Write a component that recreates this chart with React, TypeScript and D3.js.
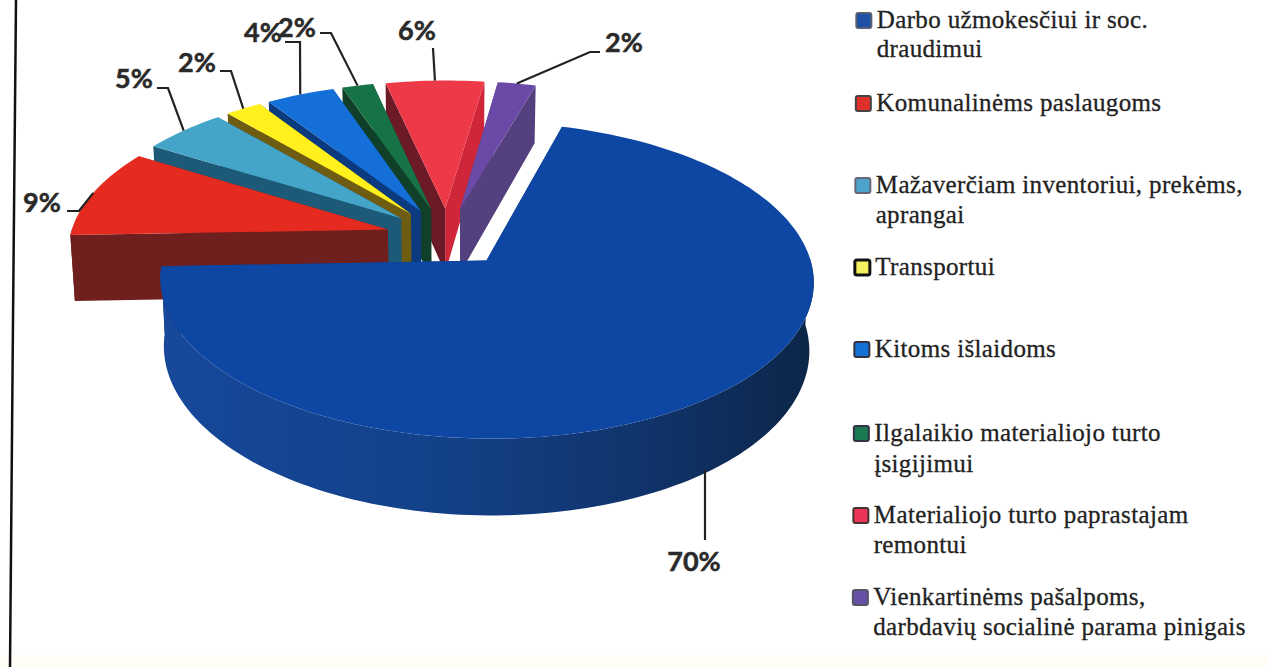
import React from "react";
import * as d3 from "d3";

// values, in the chart's own order (clockwise from the big slice)
const shares = [70, 9.4, 4.9, 2.1, 3.95, 1.8, 5.7, 2.2];
const percentLabels = ["70%", "9%", "5%", "2%", "4%", "2%", "6%", "2%"];
const legendLines = [
  ["Darbo užmokesčiui ir soc.", "draudimui"],
  ["Komunalinėms paslaugoms"],
  ["Mažaverčiam inventoriui, prekėms,", "aprangai"],
  ["Transportui"],
  ["Kitoms išlaidoms"],
  ["Ilgalaikio materialiojo turto", "įsigijimui"],
  ["Materialiojo turto paprastajam", "remontui"],
  ["Vienkartinėms pašalpoms,", "darbdavių socialinė parama pinigais"],
];

const topColors = ["#0e46a3", "#e52a20", "#45a5c8", "#fff01e", "#1470d8", "#167345", "#ee3a48", "#6a4aa6"];
const wallColors = ["#0e3a7c", "#6f201e", "#1d5a78", "#6e5c12", "#0c3a7e", "#103f2a", "#6b1a26", "#54407e"];
const radialColors = ["#0e3a7c", "#6f201e", "#1d5a78", "#6e5c12", "#0c3a7e", "#103f2a", "#d0263a", "#54407e"];
const legendColors = ["#1f50a8", "#e0302a", "#4ba3cc", "#f4f060", "#1272d6", "#1c7a52", "#ee3358", "#6650a8"];
const legendBorders = ["#556070", "#444", "#667", "#111", "#334", "#334", "#433", "#556"];

// layout
const W = 1269;
const H = 667;
const cx = 447.5;
const cy = 237;
const R = 318;
const explode = 62;
const tilt = 0.472;
const persp = 0.000385;
const depth = 66;
const startDeg = 16;
const legendBaselines = [[28, 57], [111], [193, 223], [275], [357], [441, 472], [523, 553], [605, 635]];
const labelPos = [
  [694, 571], [42, 212], [134, 88], [197, 72], [263, 42], [297, 37], [417, 40], [624, 52],
];
const leaderElbows = [
  [[705, 540], [705, 540]],
  [[67, 211], [79, 211]],
  [[157, 88], [168, 88]],
  [[220, 71], [231, 71]],
  [[285, 42], [300, 42]],
  [[320, 33], [331, 33]],
  [[433, 48], [433, 48]],
  [[600, 52], [590, 52]],
];

// plane coordinates (u right, v toward the viewer) -> screen, with a little perspective
const project = (u: number, v: number, sunk = false): [number, number] => {
  const k = 1 / (1 - persp * v);
  const inset = sunk ? 0.988 : 1;
  return [cx + u * k * inset, cy + tilt * v * k + (sunk ? depth * k : 0)];
};

const pieAngles = d3
  .pie<number>()
  .sort(null)
  .startAngle((startDeg * Math.PI) / 180)
  .endAngle((startDeg * Math.PI) / 180 + 2 * Math.PI)(shares);

const line = d3.line();

const slices = pieAngles.map((p, i) => {
  const mid = (p.startAngle + p.endAngle) / 2;
  const ou = explode * Math.sin(mid);
  const ov = -explode * Math.cos(mid);
  const rim = (a: number) => [ou + R * Math.sin(a), ov - R * Math.cos(a)] as [number, number];
  const steps = Math.max(6, Math.ceil((p.endAngle - p.startAngle) * 40));
  const angles = d3.range(steps + 1).map((s) => p.startAngle + ((p.endAngle - p.startAngle) * s) / steps);
  const top = [project(ou, ov), ...angles.map((a) => project(...rim(a)))];
  const quad = (a: number) => {
    const [u, v] = rim(a);
    return [project(ou, ov), project(u, v), project(u, v, true), project(ou, ov, true)] as [number, number][];
  };
  // outer wall only where the rim faces the viewer
  const front = angles.filter((a) => Math.cos(a) < 0.03);
  const wall = front.length
    ? [
        ...front.map((a) => project(...rim(a))),
        ...[...front].reverse().map((a) => {
          const [u, v] = rim(a);
          return project(u, v, true);
        }),
      ]
    : null;
  return { i, mid, ov, top, quadA: quad(p.startAngle), quadB: quad(p.endAngle), wall, anchor: rim(mid) };
});

// paint from the back to the front
const paintOrder = [...slices].sort((a, b) => a.ov - b.ov);

const App = () => (
  <svg
    width={W}
    height={H}
    viewBox={`0 0 ${W} ${H}`}
    style={{ position: "absolute", left: 0, top: 0, background: "#fff" }}
  >
    <defs>
      <linearGradient id="bigWall" gradientUnits="userSpaceOnUse" x1={160} x2={812} y1={0} y2={0}>
        <stop offset="0" stopColor="#17489a" />
        <stop offset="0.4" stopColor="#13428a" />
        <stop offset="0.75" stopColor="#10336a" />
        <stop offset="1" stopColor="#0c2648" />
      </linearGradient>
    </defs>
    <rect x={0} y={655} width={W} height={12} fill="#fffdf6" />
    <path d={line([[16, 0], [13, 320], [10, H]]) || ""} fill="none" stroke="#111" strokeWidth={2.5} />

    {paintOrder.map((s) => (
      <g key={s.i}>
        <path d={line(s.quadB) + "Z"} fill={radialColors[s.i]} />
        <path d={line(s.quadA) + "Z"} fill={wallColors[s.i]} />
        {s.wall && <path d={line(s.wall) + "Z"} fill={s.i === 0 ? "url(#bigWall)" : wallColors[s.i]} />}
        <path d={line(s.top) + "Z"} fill={topColors[s.i]} />
      </g>
    ))}

    {slices.map((s) => {
      const [e0, e1] = leaderElbows[s.i];
      const end = s.i === 0 ? ([705, 470] as [number, number]) : project(...(s.anchor as [number, number]));
      return (
        <path
          key={s.i}
          d={line([e0 as [number, number], e1 as [number, number], end]) || ""}
          fill="none"
          stroke="#222"
          strokeWidth={2.2}
        />
      );
    })}
    {percentLabels.map((t, i) => (
      <text
        key={i}
        x={labelPos[i][0]}
        y={labelPos[i][1]}
        textAnchor="middle"
        fontFamily="Lato, sans-serif"
        fontWeight={700}
        fontSize={27}
        fill="#2a2a2a"
        stroke="#2a2a2a"
        strokeWidth={0.5}
      >
        {t}
      </text>
    ))}

    {legendLines.map((lines, i) => {
      const y0 = legendBaselines[i][0];
      const skew = (y0 / H) * 4;
      return (
        <g key={i}>
          <rect
            x={856.5 - skew}
            y={y0 - 15}
            width={15}
            height={15}
            rx={2}
            fill={legendColors[i]}
            stroke={legendBorders[i]}
            strokeWidth={i === 3 ? 3 : 2}
          />
          {lines.map((l, j) => (
            <text
              key={j}
              x={877 - (legendBaselines[i][j] / H) * 4}
              y={legendBaselines[i][j]}
              fontFamily="'Liberation Serif', serif"
              fontSize={25}
              letterSpacing={0.35}
              fill="#222"
              stroke="#222"
              strokeWidth={0.3}
            >
              {l}
            </text>
          ))}
        </g>
      );
    })}
  </svg>
);

export default App;
